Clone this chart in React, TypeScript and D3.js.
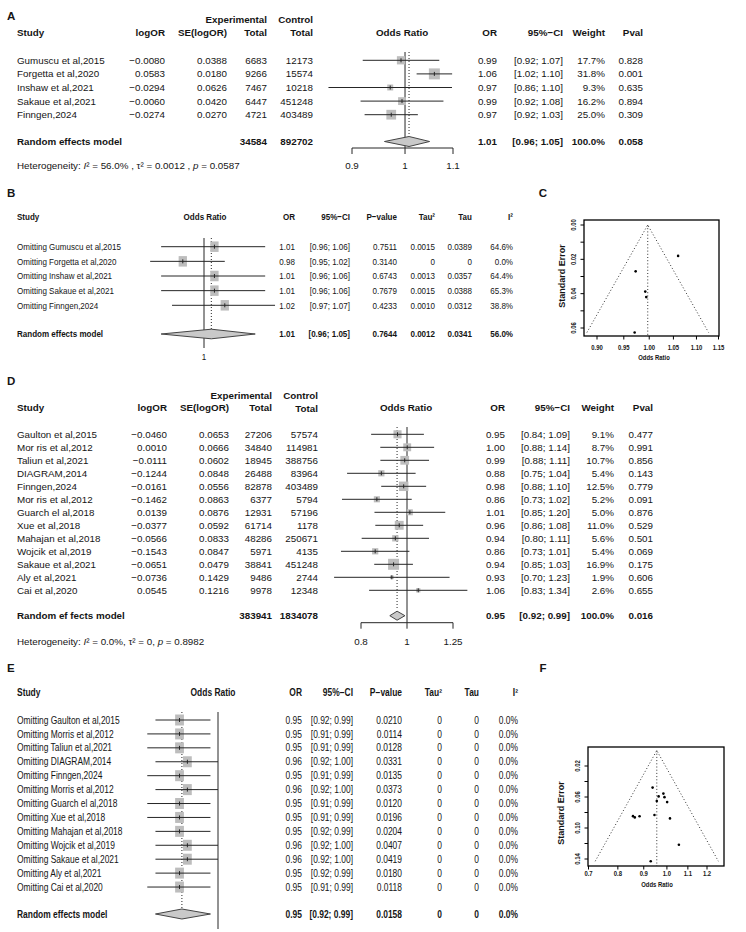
import React from 'react';
import * as d3 from 'd3';

const FONT = "'Liberation Sans', Arial, Helvetica, sans-serif";
const INK = '#151515';
const LINE = '#262626';
const SQ = '#bdbdbd';
const DIA = '#c9c9c9';

// ---------- Panel A data ----------
const studiesA = ['Gumuscu et al,2015', 'Forgetta et al,2020', 'Inshaw et al,2021', 'Sakaue et al,2021', 'Finngen,2024'];
const logOrA = [-0.008, 0.0583, -0.0294, -0.006, -0.0274];
const seA = [0.0388, 0.018, 0.0626, 0.042, 0.027];
const expTotalA = [6683, 9266, 7467, 6447, 4721];
const ctrlTotalA = [12173, 15574, 10218, 451248, 403489];
const orTextA = ['0.99', '1.06', '0.97', '0.99', '0.97'];
const ciTextA = ['[0.92; 1.07]', '[1.02; 1.10]', '[0.86; 1.10]', '[0.92; 1.08]', '[0.92; 1.03]'];
const weightA = [17.7, 31.8, 9.3, 16.2, 25.0];
const pvalA = ['0.828', '0.001', '0.635', '0.894', '0.309'];
const pooledA = [1.008, 0.96, 1.05]; // estimate, lower, upper
const pooledTextA = ['34584', '892702', '1.01', '[0.96; 1.05]', '100.0%', '0.058'];
const heteroA = ['56.0%', '0.0012', '0.0587'];
const ticksA = [0.9, 1, 1.1];

// ---------- Panel B data ----------
const studiesB = ['Omitting Gumuscu et al,2015', 'Omitting Forgetta et al,2020', 'Omitting Inshaw et al,2021', 'Omitting Sakaue et al,2021', 'Omitting Finngen,2024'];
const orB = [1.01, 0.98, 1.01, 1.01, 1.02];
const loB = [0.96, 0.95, 0.96, 0.96, 0.97];
const hiB = [1.06, 1.02, 1.06, 1.06, 1.07];
const pB = ['0.7511', '0.3140', '0.6743', '0.7679', '0.4233'];
const tau2B = ['0.0015', '0', '0.0013', '0.0015', '0.0010'];
const tauB = ['0.0389', '0', '0.0357', '0.0388', '0.0312'];
const i2B = ['64.6%', '0.0%', '64.4%', '65.3%', '38.8%'];
const pooledB = [1.007, 0.96, 1.05];
const pooledTextB = ['1.01', '[0.96; 1.05]', '0.7644', '0.0012', '0.0341', '56.0%'];

// ---------- Panel C data (funnel) ----------
const centerC = 0.997;
const xTicksC = [0.9, 0.95, 1.0, 1.05, 1.1, 1.15];
const yTicksC = [0, 0.01, 0.02, 0.03, 0.04, 0.05, 0.06];
const yLabelsC = [0, 0.02, 0.04, 0.06];

// ---------- Panel D data ----------
const studiesD = ['Gaulton et al,2015', 'Mor ris et al,2012', 'Taliun et al,2021', 'DIAGRAM,2014', 'Finngen,2024', 'Mor ris et al,2012', 'Guarch el al,2018', 'Xue et al,2018', 'Mahajan et al,2018', 'Wojcik et al,2019', 'Sakaue et al,2021', 'Aly et al,2021', 'Cai et al,2020'];
const logOrD = [-0.046, 0.001, -0.0111, -0.1244, -0.0161, -0.1462, 0.0139, -0.0377, -0.0566, -0.1543, -0.0651, -0.0736, 0.0545];
const seD = [0.0653, 0.0666, 0.0602, 0.0848, 0.0556, 0.0863, 0.0876, 0.0592, 0.0833, 0.0847, 0.0479, 0.1429, 0.1216];
const expTotalD = [27206, 34840, 18945, 26488, 82878, 6377, 12931, 61714, 48286, 5971, 38841, 9486, 9978];
const ctrlTotalD = [57574, 114981, 388756, 83964, 403489, 5794, 57196, 1178, 250671, 4135, 451248, 2744, 12348];
const orTextD = ['0.95', '1.00', '0.99', '0.88', '0.98', '0.86', '1.01', '0.96', '0.94', '0.86', '0.94', '0.93', '1.06'];
const ciTextD = ['[0.84; 1.09]', '[0.88; 1.14]', '[0.88; 1.11]', '[0.75; 1.04]', '[0.88; 1.10]', '[0.73; 1.02]', '[0.85; 1.20]', '[0.86; 1.08]', '[0.80; 1.11]', '[0.73; 1.01]', '[0.85; 1.03]', '[0.70; 1.23]', '[0.83; 1.34]'];
const weightD = [9.1, 8.7, 10.7, 5.4, 12.5, 5.2, 5.0, 11.0, 5.6, 5.4, 16.9, 1.9, 2.6];
const pvalD = ['0.477', '0.991', '0.856', '0.143', '0.779', '0.091', '0.876', '0.529', '0.501', '0.069', '0.175', '0.606', '0.655'];
const pooledD = [0.953, 0.92, 0.99];
const pooledTextD = ['383941', '1834078', '0.95', '[0.92; 0.99]', '100.0%', '0.016'];
const heteroD = ['0.0%', '0', '0.8982'];
const ticksD = [0.8, 1, 1.25];

// ---------- Panel E data ----------
const studiesE = ['Omitting Gaulton et al,2015', 'Omitting Morris et al,2012', 'Omitting Taliun et al,2021', 'Omitting DIAGRAM,2014', 'Omitting Finngen,2024', 'Omitting Morris et al,2012', 'Omitting Guarch el al,2018', 'Omitting Xue et al,2018', 'Omitting Mahajan et al,2018', 'Omitting Wojcik et al,2019', 'Omitting Sakaue et al,2021', 'Omitting Aly et al,2021', 'Omitting Cai et al,2020'];
const orE = [0.95, 0.95, 0.95, 0.96, 0.95, 0.96, 0.95, 0.95, 0.95, 0.96, 0.96, 0.95, 0.95];
const loE = [0.92, 0.91, 0.91, 0.92, 0.91, 0.92, 0.91, 0.91, 0.92, 0.92, 0.92, 0.92, 0.91];
const hiE = [0.99, 0.99, 0.99, 1.0, 0.99, 1.0, 0.99, 0.99, 0.99, 1.0, 1.0, 0.99, 0.99];
const pE = ['0.0210', '0.0114', '0.0128', '0.0331', '0.0135', '0.0373', '0.0120', '0.0196', '0.0204', '0.0407', '0.0419', '0.0180', '0.0118'];
const tau2E = ['0', '0', '0', '0', '0', '0', '0', '0', '0', '0', '0', '0', '0'];
const tauE = ['0', '0', '0', '0', '0', '0', '0', '0', '0', '0', '0', '0', '0'];
const i2E = ['0.0%', '0.0%', '0.0%', '0.0%', '0.0%', '0.0%', '0.0%', '0.0%', '0.0%', '0.0%', '0.0%', '0.0%', '0.0%'];
const pooledE = [0.953, 0.92, 0.99];
const pooledTextE = ['0.95', '[0.92; 0.99]', '0.0158', '0', '0', '0.0%'];

// ---------- Panel F data (funnel) ----------
const centerF = 0.955;
const xTicksF = [0.7, 0.8, 0.9, 1.0, 1.1, 1.2];
const yTicksF = [0.02, 0.04, 0.06, 0.08, 0.1, 0.12, 0.14];
const yLabelsF = [0.02, 0.06, 0.1, 0.14];

type TP = { x: number; y: number; a?: 'start' | 'middle' | 'end'; b?: boolean; s?: number; sx?: number; r?: number; children: React.ReactNode };
const T = ({ x, y, a = 'start', b = false, s = 9.8, sx = 1, r = 0, children }: TP) => (
  <text
    transform={`translate(${x},${y})` + (r ? ` rotate(${r})` : '') + (sx !== 1 ? ` scale(${sx},1)` : '')}
    textAnchor={a}
    dy="0.35em"
    fontSize={s}
    fontWeight={b ? 700 : 400}
    fill={INK}
  >
    {children}
  </text>
);

const f4 = d3.format('.4f');
const f2 = d3.format('.2f');
const f1 = d3.format('.1f');

function Rows({ x, ys, est, lo, hi, sw, sh }: any) {
  return (
    <g>
      {ys.map((y: number, i: number) => (
        <g key={i}>
          <rect x={x(est[i]) - sw[i] / 2} y={y - sh[i] / 2} width={sw[i]} height={sh[i]} fill={SQ} />
          <line x1={x(lo[i])} x2={x(hi[i])} y1={y} y2={y} stroke={LINE} strokeWidth={1} />
          <line x1={x(est[i])} x2={x(est[i])} y1={y - 2} y2={y + 2} stroke={LINE} strokeWidth={1} />
        </g>
      ))}
    </g>
  );
}

function Diamond({ x, y, est, lo, hi, h }: any) {
  const pts = [[x(lo), y], [x(est), y - h], [x(hi), y], [x(est), y + h]].map((p) => p.join(',')).join(' ');
  return <polygon points={pts} fill={DIA} stroke="#444" strokeWidth={1} />;
}

function Funnel({ x, y, box, xTicks, yTicks, yLabels, est, se, center, xFmt, yFmt, xLabY, titleX, titleY, seLabX, seLabY, yTickLabX }: any) {
  const seMax = d3.max(se) as number;
  const lc = Math.log(center);
  const lo = Math.exp(lc - 1.96 * seMax);
  const hi = Math.exp(lc + 1.96 * seMax);
  return (
    <g>
      <polyline
        points={`${x(lo)},${y(seMax)} ${x(center)},${y(0)} ${x(hi)},${y(seMax)}`}
        fill="none" stroke="#333" strokeWidth={1} strokeDasharray="1,2.2"
      />
      <line x1={x(center)} x2={x(center)} y1={y(0)} y2={box[3]} stroke="#333" strokeDasharray="1,2.2" />
      {est.map((e: number, i: number) => (
        <circle key={i} cx={x(e)} cy={y(se[i])} r={1.3} fill="#000" />
      ))}
      <rect x={box[0]} y={box[1]} width={box[2] - box[0]} height={box[3] - box[1]} fill="none" stroke="#000" strokeWidth={1.3} />
      {xTicks.map((t: number) => (
        <g key={'x' + t}>
          <line x1={x(t)} x2={x(t)} y1={box[3]} y2={box[3] + 3.5} stroke="#000" />
          <T x={x(t)} y={xLabY} a="middle" b s={7.4} sx={0.8}>{xFmt(t)}</T>
        </g>
      ))}
      {yTicks.map((t: number) => (
        <line key={'y' + t} x1={box[0] - 3.5} x2={box[0]} y1={y(t)} y2={y(t)} stroke="#000" />
      ))}
      {yLabels.map((t: number) => (
        <T key={'yl' + t} x={yTickLabX} y={y(t)} a="middle" b s={7.4} sx={0.8} r={-90}>{yFmt(t)}</T>
      ))}
      <T x={titleX} y={titleY} a="middle" b s={7.4} sx={0.8}>Odds Ratio</T>
      <T x={seLabX} y={seLabY} a="middle" b s={9} r={-90}>{'Standard Error'}</T>
    </g>
  );
}

export default function App() {
  React.useEffect(() => {
    document.body.style.margin = '0';
  }, []);

  // ---- scales ----
  const xA = d3.scaleLog().domain([0.9, 1.1]).range([352, 453]);
  const xD = d3.scaleLog().domain([0.8, 1.25]).range([361, 453]);
  const xB = d3.scaleLog().domain([0.95, 1.05]).range([204 + 1050 * Math.log(0.95), 204 + 1050 * Math.log(1.05)]);
  const xE = d3.scaleLog().domain([0.9, 1.0]).range([218 + 750 * Math.log(0.9), 218]);
  const xC = d3.scaleLog().domain([0.9, 1.15]).range([597, 718.5]);
  const yC = d3.scaleLinear().domain([0, 0.06]).range([225, 328]);
  const xF = d3.scaleLog().domain([0.7, 1.2]).range([588.5, 707]);
  const yF = d3.scaleLinear().domain([0.02, 0.14]).range([766, 859]);

  const rowA = studiesA.map((_, i) => 60.3 + i * 13.6);
  const rowB = studiesB.map((_, i) => 246.7 + i * 14.65);
  const rowD = studiesD.map((_, i) => 434.3 + i * 13.0);
  const rowE = studiesE.map((_, i) => 720 + i * 13.92);

  const estA = logOrA.map((l) => Math.exp(l));
  const loA = logOrA.map((l, i) => Math.exp(l - 1.96 * seA[i]));
  const hiA = logOrA.map((l, i) => Math.exp(l + 1.96 * seA[i]));
  const maxWA = d3.max(weightA) as number;
  const sqA = weightA.map((w) => 11 * Math.sqrt(w / maxWA));

  const estD = logOrD.map((l) => Math.exp(l));
  const loD = logOrD.map((l, i) => Math.exp(l - 1.96 * seD[i]));
  const hiD = logOrD.map((l, i) => Math.exp(l + 1.96 * seD[i]));
  const maxWD = d3.max(weightD) as number;
  const sqD = weightD.map((w) => 11 * Math.sqrt(w / maxWD));

  const sqBw = studiesB.map(() => 8.3);
  const sqBh = studiesB.map(() => 10.5);
  const sqEw = studiesE.map(() => 8.8);
  const sqEh = studiesE.map(() => 11);

  const NB = 0.82; // horizontal compression for panels B/E
  const sB = 9.8;
  const sE = 10.3;

  return (
    <svg width={746} height={932} style={{ position: 'absolute', left: 0, top: 0, background: '#fff' }} fontFamily={FONT}>
      <rect x={0} y={0} width={746} height={932} fill="#fff" />

      {/* ================= Panel A ================= */}
      <T x={7} y={16} b s={11.5}>A</T>
      <T x={267} y={20} a="end" b>Experimental</T>
      <T x={313} y={20} a="end" b>Control</T>
      <T x={17} y={33} b>Study</T>
      <T x={165} y={33} a="end" b>logOR</T>
      <T x={227} y={33} a="end" b>SE(logOR)</T>
      <T x={267} y={33} a="end" b>Total</T>
      <T x={313} y={33} a="end" b>Total</T>
      <T x={402} y={33} a="middle" b>Odds Ratio</T>
      <T x={497} y={33} a="end" b>OR</T>
      <T x={563} y={33} a="end" b>95%−CI</T>
      <T x={605} y={33} a="end" b>Weight</T>
      <T x={643} y={33} a="end" b>Pval</T>
      {studiesA.map((s, i) => (
        <g key={s}>
          <T x={17} y={rowA[i]}>{s}</T>
          <T x={165} y={rowA[i]} a="end">{f4(logOrA[i])}</T>
          <T x={227} y={rowA[i]} a="end">{f4(seA[i])}</T>
          <T x={267} y={rowA[i]} a="end">{expTotalA[i]}</T>
          <T x={313} y={rowA[i]} a="end">{ctrlTotalA[i]}</T>
          <T x={497} y={rowA[i]} a="end">{orTextA[i]}</T>
          <T x={563} y={rowA[i]} a="end">{ciTextA[i]}</T>
          <T x={605} y={rowA[i]} a="end">{f1(weightA[i]) + '%'}</T>
          <T x={643} y={rowA[i]} a="end">{pvalA[i]}</T>
        </g>
      ))}
      <T x={17} y={142} b>Random effects model</T>
      <T x={267} y={142} a="end" b>{pooledTextA[0]}</T>
      <T x={313} y={142} a="end" b>{pooledTextA[1]}</T>
      <T x={497} y={142} a="end" b>{pooledTextA[2]}</T>
      <T x={563} y={142} a="end" b>{pooledTextA[3]}</T>
      <T x={605} y={142} a="end" b>{pooledTextA[4]}</T>
      <T x={643} y={142} a="end" b>{pooledTextA[5]}</T>
      <text x={17} y={166} dy="0.35em" fontSize={9.8} fill={INK}>
        Heterogeneity: <tspan fontStyle="italic">I</tspan>² = {heteroA[0]} , τ² = {heteroA[1]} , <tspan fontStyle="italic">p</tspan> = {heteroA[2]}
      </text>
      <line x1={xA(1)} x2={xA(1)} y1={52} y2={148} stroke={LINE} />
      <line x1={xA(pooledA[0])} x2={xA(pooledA[0])} y1={52} y2={136} stroke={LINE} strokeDasharray="1,2" />
      <Rows x={xA} ys={rowA} est={estA} lo={loA} hi={hiA} sw={sqA} sh={sqA} />
      <Diamond x={xA} y={141.5} est={pooledA[0]} lo={pooledA[1]} hi={pooledA[2]} h={5} />
      <line x1={xA(ticksA[0])} x2={xA(ticksA[ticksA.length - 1])} y1={148} y2={148} stroke={LINE} />
      {ticksA.map((t) => (
        <g key={t}>
          <line x1={xA(t)} x2={xA(t)} y1={148} y2={154} stroke={LINE} />
          <T x={xA(t)} y={166} a="middle">{String(t)}</T>
        </g>
      ))}

      {/* ================= Panel B ================= */}
      <T x={7} y={193} b s={11.5}>B</T>
      <T x={17} y={217} b s={sB} sx={NB}>Study</T>
      <T x={205} y={217} a="middle" b s={sB} sx={NB}>Odds Ratio</T>
      <T x={295} y={217} a="end" b s={sB} sx={NB}>OR</T>
      <T x={350} y={217} a="end" b s={sB} sx={NB}>95%−CI</T>
      <T x={397} y={217} a="end" b s={sB} sx={NB}>P−value</T>
      <T x={435} y={217} a="end" b s={sB} sx={NB}>Tau²</T>
      <T x={472} y={217} a="end" b s={sB} sx={NB}>Tau</T>
      <T x={513} y={217} a="end" b s={sB} sx={NB}>I²</T>
      {studiesB.map((s, i) => (
        <g key={s}>
          <T x={17} y={rowB[i]} s={sB} sx={NB}>{s}</T>
          <T x={295} y={rowB[i]} a="end" s={sB} sx={NB}>{f2(orB[i])}</T>
          <T x={350} y={rowB[i]} a="end" s={sB} sx={NB}>{`[${f2(loB[i])}; ${f2(hiB[i])}]`}</T>
          <T x={397} y={rowB[i]} a="end" s={sB} sx={NB}>{pB[i]}</T>
          <T x={435} y={rowB[i]} a="end" s={sB} sx={NB}>{tau2B[i]}</T>
          <T x={472} y={rowB[i]} a="end" s={sB} sx={NB}>{tauB[i]}</T>
          <T x={513} y={rowB[i]} a="end" s={sB} sx={NB}>{i2B[i]}</T>
        </g>
      ))}
      <T x={17} y={334} b s={sB} sx={NB}>Random effects model</T>
      {[295, 350, 397, 435, 472, 513].map((xx, k) => (
        <T key={xx} x={xx} y={334} a="end" b s={sB} sx={NB}>{pooledTextB[k]}</T>
      ))}
      <line x1={xB(1)} x2={xB(1)} y1={238} y2={348} stroke={LINE} />
      <line x1={xB(pooledB[0])} x2={xB(pooledB[0])} y1={238} y2={329} stroke={LINE} strokeDasharray="1,2" />
      <Rows x={xB} ys={rowB} est={orB} lo={loB} hi={hiB} sw={sqBw} sh={sqBh} />
      <Diamond x={xB} y={334} est={pooledB[0]} lo={pooledB[1]} hi={pooledB[2]} h={4.8} />
      <T x={xB(1)} y={357} a="middle" s={sB} sx={NB}>1</T>

      {/* ================= Panel C ================= */}
      <T x={543} y={193} a="middle" b s={11.5}>C</T>
      <Funnel
        x={xC} y={yC} box={[584, 220, 719, 336]} xTicks={xTicksC} yTicks={yTicksC} yLabels={yLabelsC}
        est={estA} se={seA} center={centerC} xFmt={d3.format('.2f')} yFmt={d3.format('.2f')}
        xLabY={347} titleX={654} titleY={357} seLabX={562} seLabY={276} yTickLabX={573}
      />

      {/* ================= Panel D ================= */}
      <T x={7} y={381} b s={11.5}>D</T>
      <T x={272} y={396} a="end" b>Experimental</T>
      <T x={318} y={396} a="end" b>Control</T>
      <T x={17} y={408} b>Study</T>
      <T x={167} y={408} a="end" b>logOR</T>
      <T x={229} y={408} a="end" b>SE(logOR)</T>
      <T x={272} y={408} a="end" b>Total</T>
      <T x={318} y={409} a="end" b>Total</T>
      <T x={406} y={408} a="middle" b>Odds Ratio</T>
      <T x={505} y={408} a="end" b>OR</T>
      <T x={570} y={408} a="end" b>95%−CI</T>
      <T x={614} y={408} a="end" b>Weight</T>
      <T x={653} y={408} a="end" b>Pval</T>
      {studiesD.map((s, i) => (
        <g key={i}>
          <T x={17} y={rowD[i]}>{s}</T>
          <T x={167} y={rowD[i]} a="end">{f4(logOrD[i])}</T>
          <T x={229} y={rowD[i]} a="end">{f4(seD[i])}</T>
          <T x={272} y={rowD[i]} a="end">{expTotalD[i]}</T>
          <T x={318} y={rowD[i]} a="end">{ctrlTotalD[i]}</T>
          <T x={505} y={rowD[i]} a="end">{orTextD[i]}</T>
          <T x={570} y={rowD[i]} a="end">{ciTextD[i]}</T>
          <T x={614} y={rowD[i]} a="end">{f1(weightD[i]) + '%'}</T>
          <T x={653} y={rowD[i]} a="end">{pvalD[i]}</T>
        </g>
      ))}
      <T x={17} y={615.7} b>Random ef fects model</T>
      <T x={272} y={615.7} a="end" b>{pooledTextD[0]}</T>
      <T x={318} y={615.7} a="end" b>{pooledTextD[1]}</T>
      <T x={505} y={615.7} a="end" b>{pooledTextD[2]}</T>
      <T x={570} y={615.7} a="end" b>{pooledTextD[3]}</T>
      <T x={614} y={615.7} a="end" b>{pooledTextD[4]}</T>
      <T x={653} y={615.7} a="end" b>{pooledTextD[5]}</T>
      <text x={17} y={641.7} dy="0.35em" fontSize={9.8} fill={INK}>
        Heterogeneity: <tspan fontStyle="italic">I</tspan>² = {heteroD[0]}, τ² = {heteroD[1]}, <tspan fontStyle="italic">p</tspan> = {heteroD[2]}
      </text>
      <line x1={xD(1)} x2={xD(1)} y1={427} y2={622.7} stroke={LINE} />
      <line x1={xD(pooledD[0])} x2={xD(pooledD[0])} y1={427} y2={610} stroke={LINE} strokeDasharray="1,2" />
      <Rows x={xD} ys={rowD} est={estD} lo={loD} hi={hiD} sw={sqD} sh={sqD} />
      <Diamond x={xD} y={615.7} est={pooledD[0]} lo={pooledD[1]} hi={pooledD[2]} h={4.5} />
      <line x1={xD(ticksD[0])} x2={xD(ticksD[ticksD.length - 1])} y1={622.7} y2={622.7} stroke={LINE} />
      {ticksD.map((t) => (
        <g key={t}>
          <line x1={xD(t)} x2={xD(t)} y1={622.7} y2={628.7} stroke={LINE} />
          <T x={xD(t)} y={641.7} a="middle">{String(t)}</T>
        </g>
      ))}

      {/* ================= Panel E ================= */}
      <T x={7} y={668} b s={11.5}>E</T>
      <T x={17} y={692} b s={sE} sx={NB}>Study</T>
      <T x={213} y={692} a="middle" b s={sE} sx={NB}>Odds Ratio</T>
      <T x={302} y={692} a="end" b s={sE} sx={NB}>OR</T>
      <T x={353} y={692} a="end" b s={sE} sx={NB}>95%−CI</T>
      <T x={402} y={692} a="end" b s={sE} sx={NB}>P−value</T>
      <T x={442} y={692} a="end" b s={sE} sx={NB}>Tau²</T>
      <T x={479} y={692} a="end" b s={sE} sx={NB}>Tau</T>
      <T x={518} y={692} a="end" b s={sE} sx={NB}>I²</T>
      {studiesE.map((s, i) => (
        <g key={i}>
          <T x={17} y={rowE[i]} s={sE} sx={NB}>{s}</T>
          <T x={302} y={rowE[i]} a="end" s={sE} sx={NB}>{f2(orE[i])}</T>
          <T x={353} y={rowE[i]} a="end" s={sE} sx={NB}>{`[${f2(loE[i])}; ${f2(hiE[i])}]`}</T>
          <T x={402} y={rowE[i]} a="end" s={sE} sx={NB}>{pE[i]}</T>
          <T x={442} y={rowE[i]} a="end" s={sE} sx={NB}>{tau2E[i]}</T>
          <T x={479} y={rowE[i]} a="end" s={sE} sx={NB}>{tauE[i]}</T>
          <T x={518} y={rowE[i]} a="end" s={sE} sx={NB}>{i2E[i]}</T>
        </g>
      ))}
      <T x={17} y={914} b s={sE} sx={NB}>Random effects model</T>
      {[302, 353, 402, 442, 479, 518].map((xx, k) => (
        <T key={xx} x={xx} y={914} a="end" b s={sE} sx={NB}>{pooledTextE[k]}</T>
      ))}
      <line x1={xE(1)} x2={xE(1)} y1={712} y2={929} stroke={LINE} />
      <line x1={xE(pooledE[0])} x2={xE(pooledE[0])} y1={712} y2={908} stroke={LINE} strokeDasharray="1,2" />
      <Rows x={xE} ys={rowE} est={orE} lo={loE} hi={hiE} sw={sqEw} sh={sqEh} />
      <Diamond x={xE} y={914} est={pooledE[0]} lo={pooledE[1]} hi={pooledE[2]} h={5} />

      {/* ================= Panel F ================= */}
      <T x={543} y={668} a="middle" b s={11.5}>F</T>
      <Funnel
        x={xF} y={yF} box={[588, 747, 724, 866]} xTicks={xTicksF} yTicks={yTicksF} yLabels={yLabelsF}
        est={estD} se={seD} center={centerF} xFmt={d3.format('.1f')} yFmt={d3.format('.2f')}
        xLabY={873} titleX={657} titleY={884} seLabX={561} seLabY={813} yTickLabX={577}
      />
    </svg>
  );
}
